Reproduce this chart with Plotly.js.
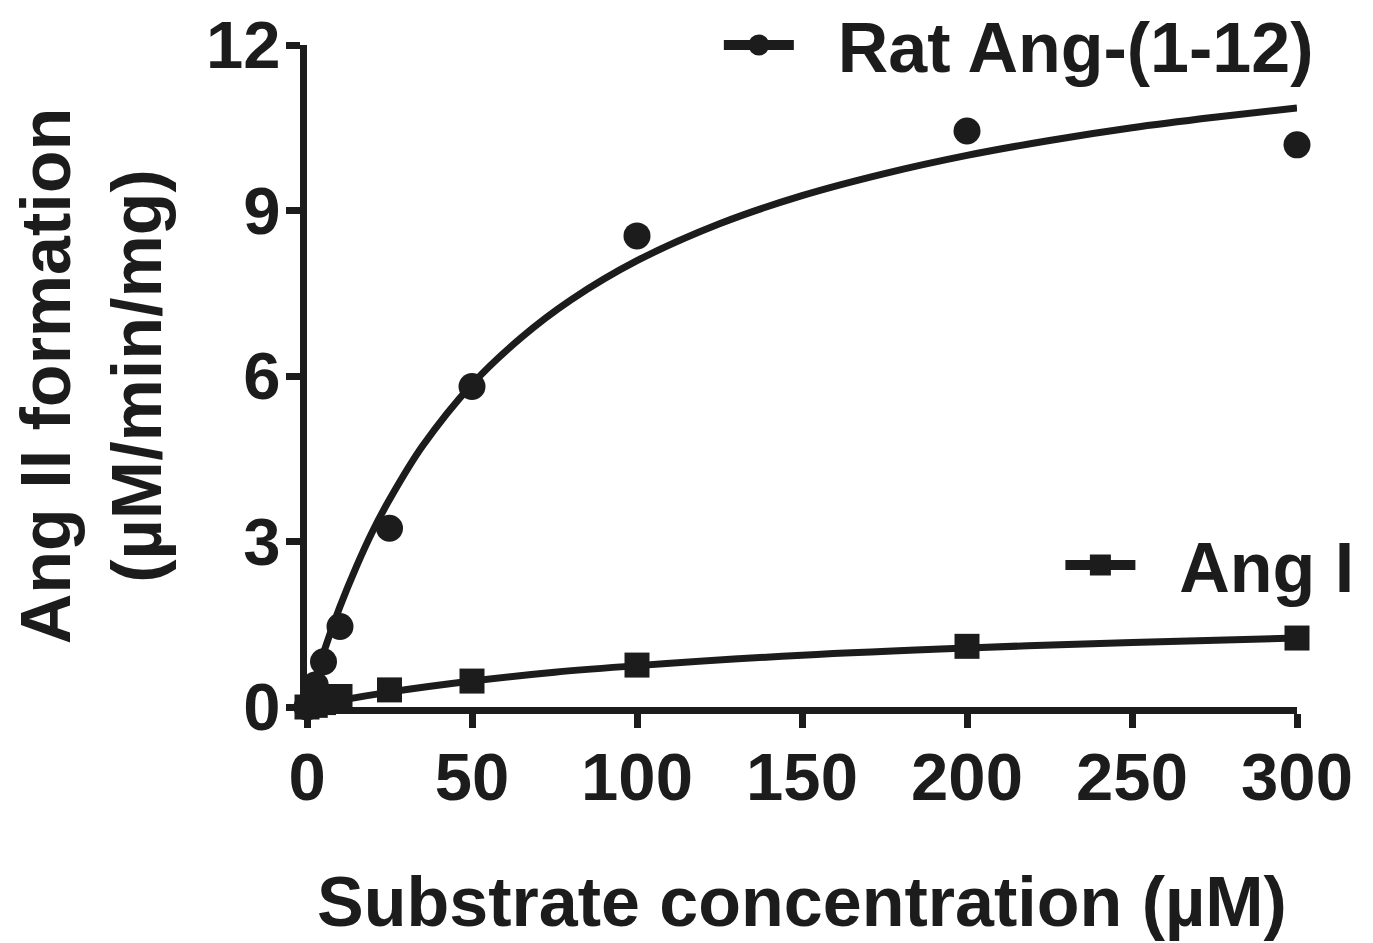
<!DOCTYPE html>
<html>
<head>
<meta charset="utf-8">
<script src="https://cdn.plot.ly/plotly-3.0.1.min.js"></script>
<style>html,body{margin:0;padding:0;background:#fff;}#chart{width:1373px;height:943px;}</style>
</head>
<body>
<div id="chart"></div>
<script>
// Measured data points
var ratX = [0, 2.5, 5, 10, 25, 50, 100, 200, 300];
var ratY = [0, 0.4, 0.82, 1.46, 3.24, 5.81, 8.54, 10.44, 10.19];
var angX = [0, 2.5, 5, 10, 25, 50, 100, 200, 300];
var angY = [0, 0.03, 0.08, 0.19, 0.31, 0.47, 0.76, 1.1, 1.25];

// Fitted curves
var ratFitX = [0, 2.5, 5, 10, 15, 20, 25, 35, 50, 65, 80, 100, 125, 150, 175, 200, 225, 250, 275, 300];
var ratFitY = [0, 0.51, 0.98, 1.82, 2.55, 3.20, 3.76, 4.73, 5.85, 6.70, 7.38, 8.09, 8.76, 9.27, 9.67, 10.0, 10.27, 10.50, 10.69, 10.86];
var angFitX = [0, 5, 10, 25, 50, 75, 100, 150, 200, 250, 300];
var angFitY = [0, 0.06, 0.12, 0.27, 0.47, 0.63, 0.75, 0.94, 1.07, 1.17, 1.25];

var xTicks = [0, 50, 100, 150, 200, 250, 300];
var yTicks = [0, 3, 6, 9, 12];

var seriesNames = ['Rat Ang-(1-12)', 'Ang I'];

var INK = '#1c1c1c';
var FONT = 'Liberation Sans, Arial, sans-serif';
var GAP = '\u00a0\u00a0';

var traces = [
  {x: ratFitX, y: ratFitY, mode: 'lines', line: {color: INK, width: 7, shape: 'spline'}, showlegend: false, hoverinfo: 'skip'},
  {x: angFitX, y: angFitY, mode: 'lines', line: {color: INK, width: 7, shape: 'spline'}, showlegend: false, hoverinfo: 'skip'},
  {x: ratX, y: ratY, mode: 'markers', marker: {symbol: 'circle', size: 27, color: INK}, showlegend: false, cliponaxis: false},
  {x: angX, y: angY, mode: 'markers', marker: {symbol: 'square', size: 25, color: INK}, showlegend: false, cliponaxis: false},
  {x: [null], y: [null], mode: 'lines+markers', name: GAP + seriesNames[0], line: {color: INK, width: 10},
    marker: {symbol: 'circle', size: 24, color: INK, line: {color: INK, width: 5}}, legend: 'legend'},
  {x: [null], y: [null], mode: 'lines+markers', name: GAP + seriesNames[1], line: {color: INK, width: 10},
    marker: {symbol: 'square', size: 22, color: INK, line: {color: INK, width: 5}}, legend: 'legend2'}
];

var axisCommon = {
  showgrid: false, zeroline: false, showline: true, linecolor: INK, linewidth: 7,
  ticks: 'outside', ticklen: 14, tickwidth: 7, tickcolor: INK,
  tickfont: {family: FONT, size: 67, color: INK, weight: 'bold'}
};

var layout = {
  width: 1373, height: 943,
  margin: {l: 307, r: 76, t: 45, b: 236, autoexpand: false},
  paper_bgcolor: '#fff', plot_bgcolor: '#fff',
  font: {family: FONT, color: INK},
  xaxis: Object.assign({}, axisCommon, {
    range: [0, 300], tickvals: xTicks, ticktext: xTicks.map(String), automargin: false,
    ticklabelstandoff: -8,
    title: {text: 'Substrate concentration (µM)', font: {family: FONT, size: 70, color: INK, weight: 'bold'}, standoff: 66}
  }),
  yaxis: Object.assign({}, axisCommon, {
    range: [0, 12], tickvals: yTicks, ticktext: yTicks.map(String), automargin: false,
    ticklabelstandoff: -8,
    title: {text: 'Ang II formation<br>(µM/min/mg)', font: {family: FONT, size: 70, color: INK, weight: 'bold'}, standoff: 24}
  }),
  legend: {x: 0.416, y: 1.0, xanchor: 'left', yanchor: 'middle', bgcolor: 'rgba(0,0,0,0)', borderwidth: 0, itemwidth: 70,
    font: {family: FONT, size: 70, color: INK, weight: 'bold'}},
  legend2: {x: 0.761, y: 0.2145, xanchor: 'left', yanchor: 'middle', bgcolor: 'rgba(0,0,0,0)', borderwidth: 0, itemwidth: 70,
    font: {family: FONT, size: 70, color: INK, weight: 'bold'}},
  showlegend: true
};

Plotly.newPlot('chart', traces, layout, {staticPlot: true, displayModeBar: false});
</script>
</body>
</html>
